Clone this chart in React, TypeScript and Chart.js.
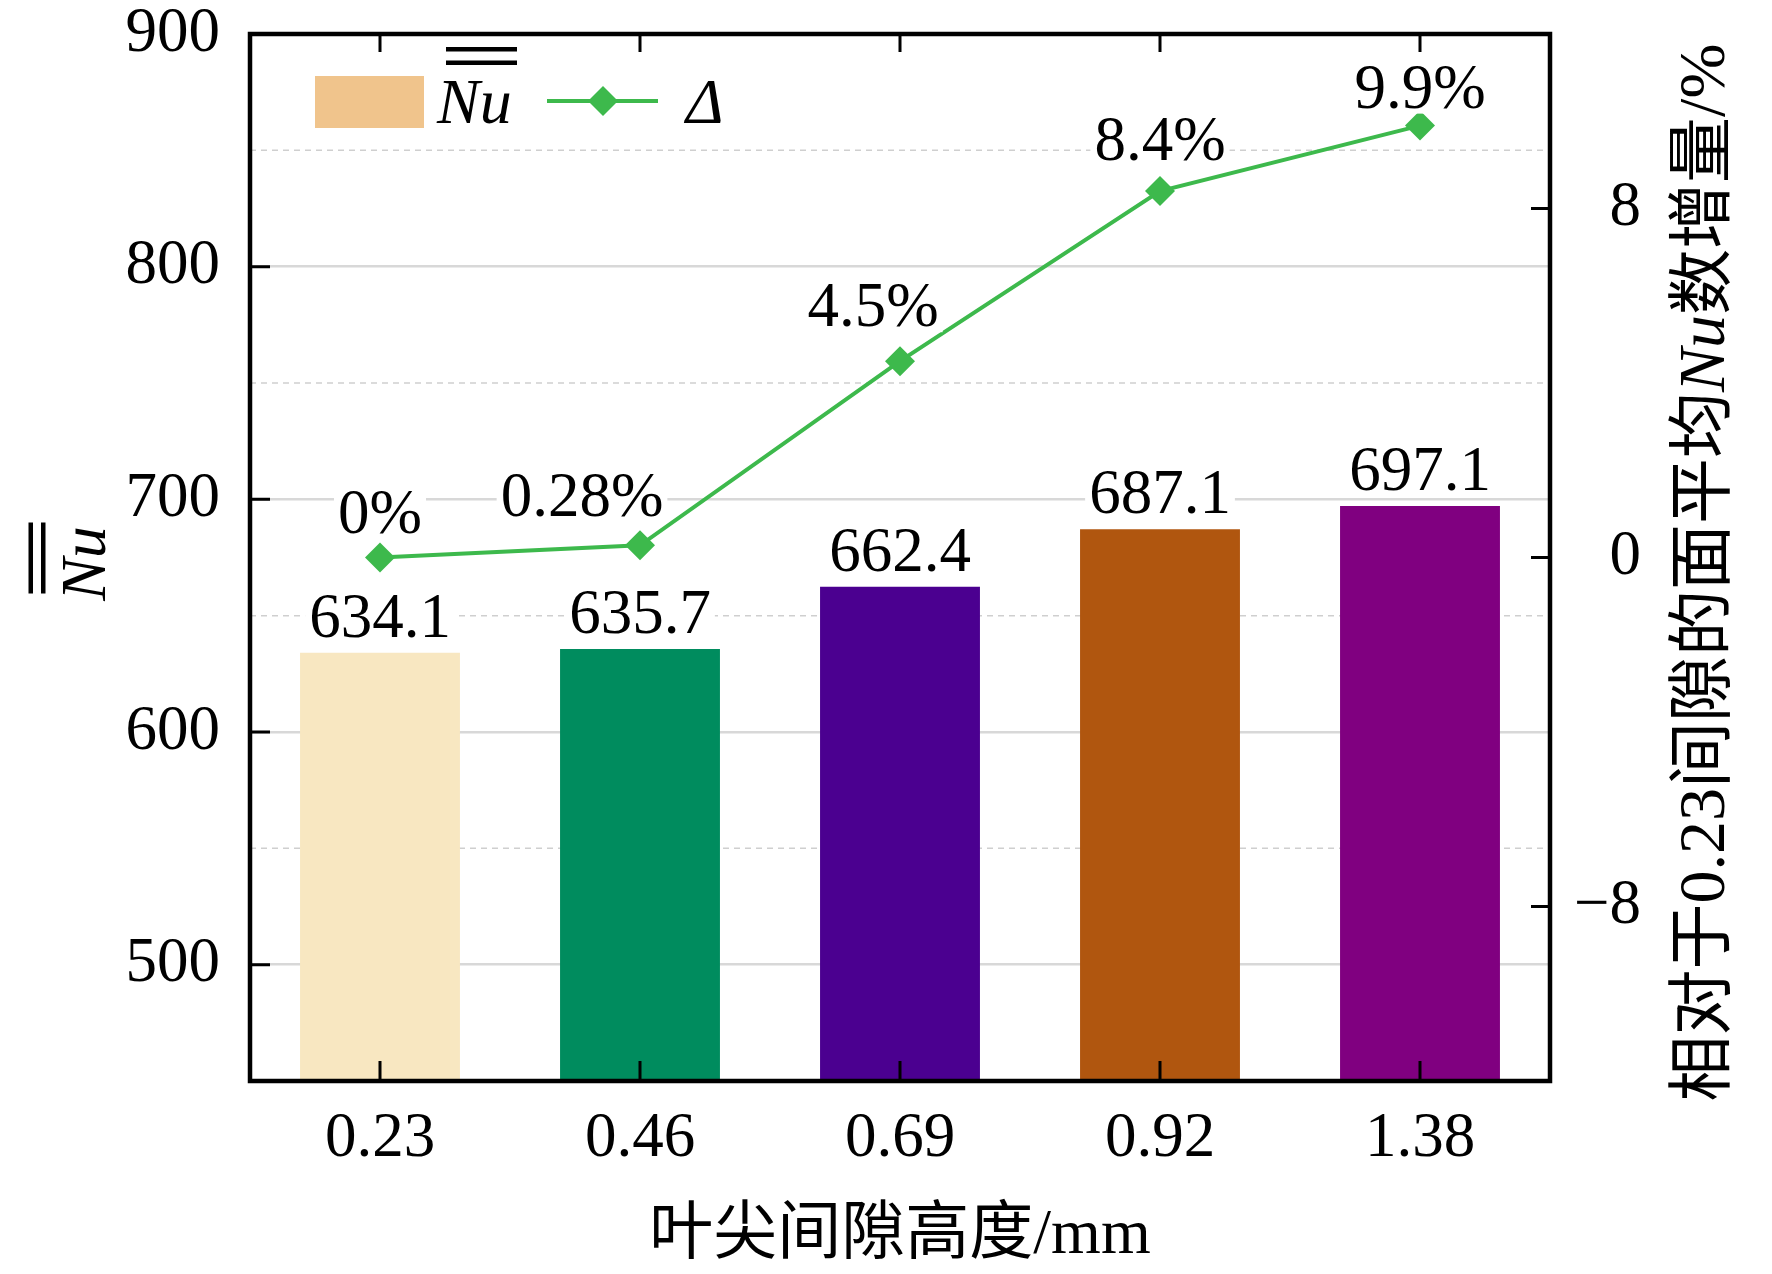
import { useEffect, useRef } from 'react'
import { Chart, registerables } from 'chart.js'

Chart.register(...registerables)

const categories = ['0.23', '0.46', '0.69', '0.92', '1.38']
const nuValues = [634.1, 635.7, 662.4, 687.1, 697.1]
const deltaValues = [0, 0.28, 4.5, 8.4, 9.9]
const leftTicks = [500, 600, 700, 800, 900]
const leftMinorGrid = [550, 650, 750, 850]
const rightTicks = [-8, 0, 8]

const barColors = ['#F8E7C1', '#008C5E', '#4B0090', '#B0560F', '#800080']
const legendBarColor = '#F0C48C'
const lineColor = '#3DB94C'

// label shifts [dx, dy above point], the source nudges some of them
const pctShift = [
  [0, 25],
  [-58, 29],
  [-27, 35],
  [0, 31],
  [0, 18],
]

const SERIF = "'Liberation Serif', 'Times New Roman', 'Noto Sans CJK SC', serif"
const FS = 63

// chart.js adds tick padding to the vertical padding, drop it so the plot box stays put
const noVPad = (s: any) => {
  s.paddingTop = 0
  s.paddingBottom = 0
}

const decor = {
  id: 'decor',
  beforeDatasetsDraw(chart: any) {
    const { ctx, chartArea, scales } = chart
    ctx.save()
    ctx.strokeStyle = '#cfcfcf'
    ctx.lineWidth = 1.5
    ctx.setLineDash([6, 5])
    leftMinorGrid.forEach((v) => {
      const py = scales.y.getPixelForValue(v)
      ctx.beginPath()
      ctx.moveTo(chartArea.left, py)
      ctx.lineTo(chartArea.right, py)
      ctx.stroke()
    })
    ctx.restore()
  },
  afterDatasetsDraw(chart: any) {
    const { ctx } = chart
    ctx.save()
    ctx.font = `${FS}px ${SERIF}`
    ctx.textAlign = 'center'
    ctx.textBaseline = 'alphabetic'
    const drawLabel = (text: string, x: number, y: number) => {
      const w = ctx.measureText(text).width
      ctx.fillStyle = '#fff'
      ctx.fillRect(x - w / 2 - 4, y - 46, w + 8, 52)
      ctx.fillStyle = '#000'
      ctx.fillText(text, x, y)
    }
    const bars = chart.getDatasetMeta(1).data
    bars.forEach((el: any, i: number) => {
      drawLabel(nuValues[i].toFixed(1), el.x, el.y - 16)
    })
    const pts = chart.getDatasetMeta(0).data
    pts.forEach((el: any, i: number) => {
      drawLabel(`${deltaValues[i]}%`, el.x + pctShift[i][0], el.y - pctShift[i][1])
    })
    ctx.restore()
  },
  afterDraw(chart: any) {
    const { ctx, chartArea, scales } = chart
    const { left, right, top, bottom } = chartArea
    ctx.save()
    ctx.strokeStyle = '#000'
    // inward ticks
    ctx.lineWidth = 3
    ctx.beginPath()
    leftTicks.forEach((v) => {
      const py = scales.y.getPixelForValue(v)
      ctx.moveTo(left, py)
      ctx.lineTo(left + 20, py)
    })
    rightTicks.forEach((v) => {
      const py = scales.y1.getPixelForValue(v)
      ctx.moveTo(right, py)
      ctx.lineTo(right - 19, py)
    })
    categories.forEach((_, i) => {
      const px = scales.x.getPixelForValue(i)
      ctx.moveTo(px, bottom)
      ctx.lineTo(px, bottom - 20)
      ctx.moveTo(px, top)
      ctx.lineTo(px, top + 18)
    })
    ctx.stroke()
    // frame
    ctx.lineWidth = 4.5
    ctx.strokeRect(left, top, right - left, bottom - top)

    // legend
    ctx.fillStyle = legendBarColor
    ctx.fillRect(315, 76, 109, 52)
    ctx.fillStyle = '#000'
    ctx.font = `italic ${FS + 1}px ${SERIF}`
    ctx.textAlign = 'left'
    ctx.textBaseline = 'alphabetic'
    ctx.fillText('Nu', 437, 123)
    ctx.fillRect(446, 47, 71, 4.5)
    ctx.fillRect(446, 60.5, 71, 4.5)
    ctx.strokeStyle = lineColor
    ctx.lineWidth = 4
    ctx.beginPath()
    ctx.moveTo(547, 101)
    ctx.lineTo(658, 101)
    ctx.stroke()
    ctx.fillStyle = lineColor
    ctx.beginPath()
    ctx.moveTo(603, 86)
    ctx.lineTo(618, 101)
    ctx.lineTo(603, 116)
    ctx.lineTo(588, 101)
    ctx.closePath()
    ctx.fill()
    ctx.fillStyle = '#000'
    ctx.fillText('Δ', 686, 123)

    // x title
    ctx.font = `${FS + 1}px ${SERIF}`
    ctx.textAlign = 'center'
    ctx.fillText('叶尖间隙高度/mm', (left + right) / 2, 1253)

    // left title
    ctx.save()
    ctx.translate(105, (top + bottom) / 2 + 6)
    ctx.rotate(-Math.PI / 2)
    ctx.font = `italic ${FS + 1}px ${SERIF}`
    ctx.textAlign = 'center'
    ctx.fillText('Nu', 0, 0)
    ctx.fillRect(-30, -76.5, 71, 4.5)
    ctx.fillRect(-30, -64, 71, 4.5)
    ctx.restore()

    // right title with italic Nu
    const parts: [string, boolean][] = [
      ['相对于0.23间隙的面平均', false],
      ['Nu', true],
      ['数增量/%', false],
    ]
    const rfs = 66
    ctx.save()
    ctx.translate(1724, (top + bottom) / 2 + 15)
    ctx.rotate(-Math.PI / 2)
    ctx.textAlign = 'left'
    const widths = parts.map(([t, it]) => {
      ctx.font = `${it ? 'italic ' : ''}${rfs}px ${SERIF}`
      return ctx.measureText(t).width
    })
    let cx = -widths.reduce((a, b) => a + b, 0) / 2
    parts.forEach(([t, it], i) => {
      ctx.font = `${it ? 'italic ' : ''}${rfs}px ${SERIF}`
      ctx.fillText(t, cx, 0)
      cx += widths[i]
    })
    ctx.restore()

    ctx.restore()
  },
}

export default function App() {
  const canvasRef = useRef<HTMLCanvasElement>(null)

  useEffect(() => {
    document.body.style.margin = '0'
    const chart = new Chart(canvasRef.current as HTMLCanvasElement, {
      type: 'bar',
      data: {
        labels: categories,
        datasets: [
          {
            type: 'line',
            yAxisID: 'y1',
            data: deltaValues,
            order: 0,
            borderColor: lineColor,
            borderWidth: 4,
            backgroundColor: lineColor,
            pointStyle: 'rectRot',
            pointRadius: 15,
            pointBorderWidth: 0,
            pointBackgroundColor: lineColor,
            tension: 0,
          } as any,
          {
            type: 'bar',
            yAxisID: 'y',
            data: nuValues,
            order: 1,
            backgroundColor: barColors,
            categoryPercentage: 1,
            barPercentage: 0.615,
          },
        ],
      },
      options: {
        animation: false,
        responsive: true,
        maintainAspectRatio: false,
        events: [],
        layout: { padding: { top: 34, left: 0, right: 131, bottom: 0 } },
        plugins: {
          legend: { display: false },
          tooltip: { enabled: false },
        },
        scales: {
          x: {
            type: 'category',
            grid: { display: false },
            border: { display: false },
            ticks: {
              color: '#000',
              padding: 19,
              font: { family: SERIF, size: FS, lineHeight: 1 },
            },
            afterFit: (s: any) => {
              s.height = 193
            },
          },
          y: {
            type: 'linear',
            position: 'left',
            min: 450,
            max: 900,
            afterBuildTicks: (s: any) => {
              s.ticks = leftTicks.map((v) => ({ value: v }))
            },
            grid: { color: '#d8d8d8', lineWidth: 2.5, drawTicks: false },
            border: { display: false },
            ticks: {
              color: '#000',
              padding: 30,
              font: { family: SERIF, size: FS, lineHeight: 1 },
            },
            afterFit: (s: any) => {
              s.width = 250
              noVPad(s)
            },
          },
          y1: {
            type: 'linear',
            position: 'right',
            min: -12,
            max: 12,
            afterBuildTicks: (s: any) => {
              s.ticks = rightTicks.map((v) => ({ value: v }))
            },
            grid: { display: false },
            border: { display: false },
            ticks: {
              color: '#000',
              padding: 26,
              crossAlign: 'far',
              font: { family: SERIF, size: FS, lineHeight: 1 },
              callback: (v: any) => (Number(v) < 0 ? `−${Math.abs(Number(v))}` : String(v)),
            },
            afterFit: (s: any) => {
              s.width = 91
              noVPad(s)
            },
          },
        },
      },
      plugins: [decor],
    })
    return () => chart.destroy()
  }, [])

  return (
    <div style={{ width: 1772, height: 1274, position: 'relative', background: '#fff' }}>
      <canvas ref={canvasRef} />
    </div>
  )
}
